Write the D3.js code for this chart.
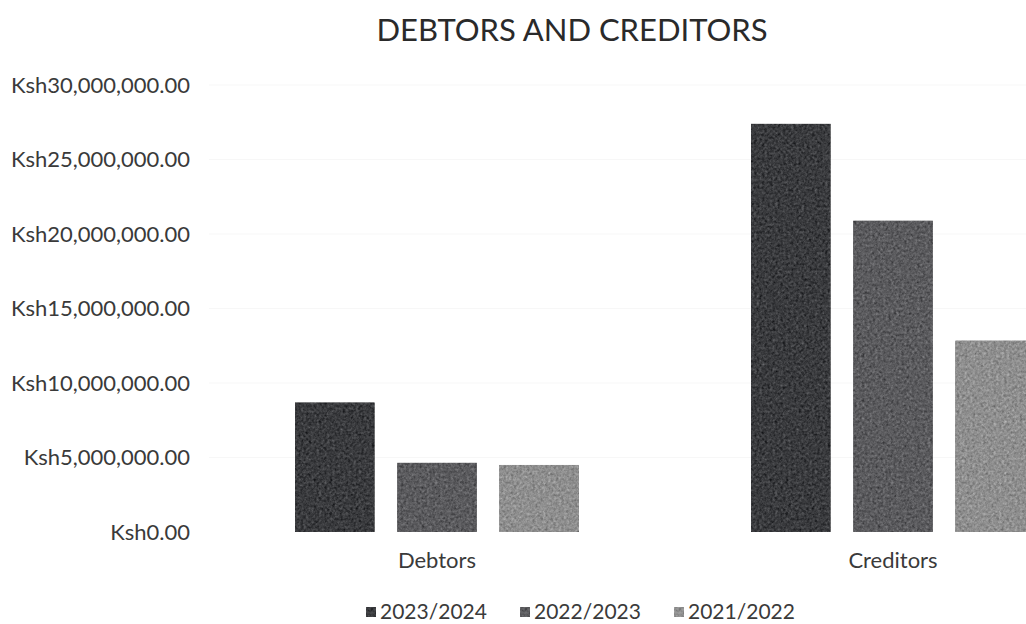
<!DOCTYPE html>
<html>
<head>
<meta charset="utf-8">
<script src="https://cdn.jsdelivr.net/npm/d3@7/dist/d3.min.js"></script>
<style>
  html, body { margin: 0; padding: 0; background: #fff; }
  svg { display: block; font-family: Lato, "Open Sans", sans-serif; }
</style>
</head>
<body>
<svg id="chart" width="1026" height="624"></svg>
<script>
// Year-end balances in Kenyan shillings
const categories = ["Debtors", "Creditors"];
const seriesNames = ["2023/2024", "2022/2023", "2021/2022"];
const values2023_24 = [8700000, 27400000];
const values2022_23 = [4650000, 20900000];
const values2021_22 = [4500000, 12850000];
const yTicks = [0, 5000000, 10000000, 15000000, 20000000, 25000000, 30000000];

const seriesValues = [values2023_24, values2022_23, values2021_22];
const colors = ["#3a3b3e", "#5b5b5e", "#8f8f8f"];
const textColor = "#3a3a3a";

const svg = d3.select("#chart");

// Grain filter giving the bars a toner-like texture
const defs = svg.append("defs");
const f = defs.append("filter").attr("id", "grain")
  .attr("x", 0).attr("y", 0).attr("width", 1).attr("height", 1)
  .attr("color-interpolation-filters", "sRGB");
f.append("feTurbulence").attr("type", "fractalNoise")
  .attr("baseFrequency", 0.38).attr("numOctaves", 3).attr("seed", 7).attr("result", "noise");
f.append("feColorMatrix").attr("in", "noise").attr("type", "matrix")
  .attr("values", "0.33 0.33 0.33 0 0  0.33 0.33 0.33 0 0  0.33 0.33 0.33 0 0  0 0 0 0 1")
  .attr("result", "gray");
f.append("feComposite").attr("in", "SourceGraphic").attr("in2", "gray")
  .attr("operator", "arithmetic").attr("k1", 0).attr("k2", 1).attr("k3", 0.6).attr("k4", -0.3)
  .attr("result", "mix");
f.append("feComposite").attr("in", "mix").attr("in2", "SourceGraphic").attr("operator", "in");

const y = d3.scaleLinear().domain([0, 30000000]).range([532, 85]);
const x0 = d3.scaleBand().domain(categories).range([209, 1121]);
const x1 = d3.scaleBand().domain(seriesNames).range([86, 370]).paddingInner(0.22);

const fmt = v => "Ksh" + d3.format(",.2f")(v);

// Faint horizontal gridlines
svg.append("g")
  .selectAll("line").data(yTicks.slice(1)).join("line")
  .attr("x1", 209).attr("x2", 1026)
  .attr("y1", d => y(d)).attr("y2", d => y(d))
  .attr("stroke", "#f7f7f7").attr("stroke-width", 1);

// Y axis labels
const yAxis = d3.axisLeft(y).tickValues(yTicks).tickFormat(fmt).tickSize(0).tickPadding(0);
const gy = svg.append("g").attr("transform", "translate(190,0)").call(yAxis);
gy.select(".domain").remove();
gy.selectAll("text").attr("fill", textColor).style("font-size", "22px")
  .style("font-family", "Lato, sans-serif");

// Bars
const groups = svg.append("g").selectAll("g").data(categories).join("g")
  .attr("transform", d => `translate(${x0(d)},0)`);
groups.selectAll("rect")
  .data((c, ci) => seriesNames.map((s, si) => ({ s, si, v: seriesValues[si][ci] })))
  .join("rect")
  .attr("x", d => x1(d.s))
  .attr("width", x1.bandwidth())
  .attr("y", d => y(d.v))
  .attr("height", d => y(0) - y(d.v))
  .attr("fill", d => colors[d.si])
  .attr("filter", "url(#grain)");

// Category labels
const xAxis = d3.axisBottom(x0).tickSize(0).tickPadding(0);
const gx = svg.append("g").attr("transform", "translate(0,552)").call(xAxis);
gx.select(".domain").remove();
gx.selectAll("text").attr("fill", textColor).style("font-size", "22px")
  .style("font-family", "Lato, sans-serif");

// Title
svg.append("text").attr("x", 572).attr("y", 41).attr("text-anchor", "middle")
  .attr("fill", "#2a2a2a").style("font-size", "31px").text("DEBTORS AND CREDITORS");

// Legend
const legendX = [366, 520, 674];
const lg = svg.append("g").selectAll("g").data(seriesNames).join("g")
  .attr("transform", (d, i) => `translate(${legendX[i]},612)`);
lg.append("rect").attr("x", 0).attr("y", -5).attr("width", 10).attr("height", 10)
  .attr("fill", (d, i) => colors[i]).attr("filter", "url(#grain)");
lg.append("text").attr("x", 14).attr("y", 7).attr("fill", textColor)
  .style("font-size", "21px").text(d => d);
</script>
</body>
</html>
